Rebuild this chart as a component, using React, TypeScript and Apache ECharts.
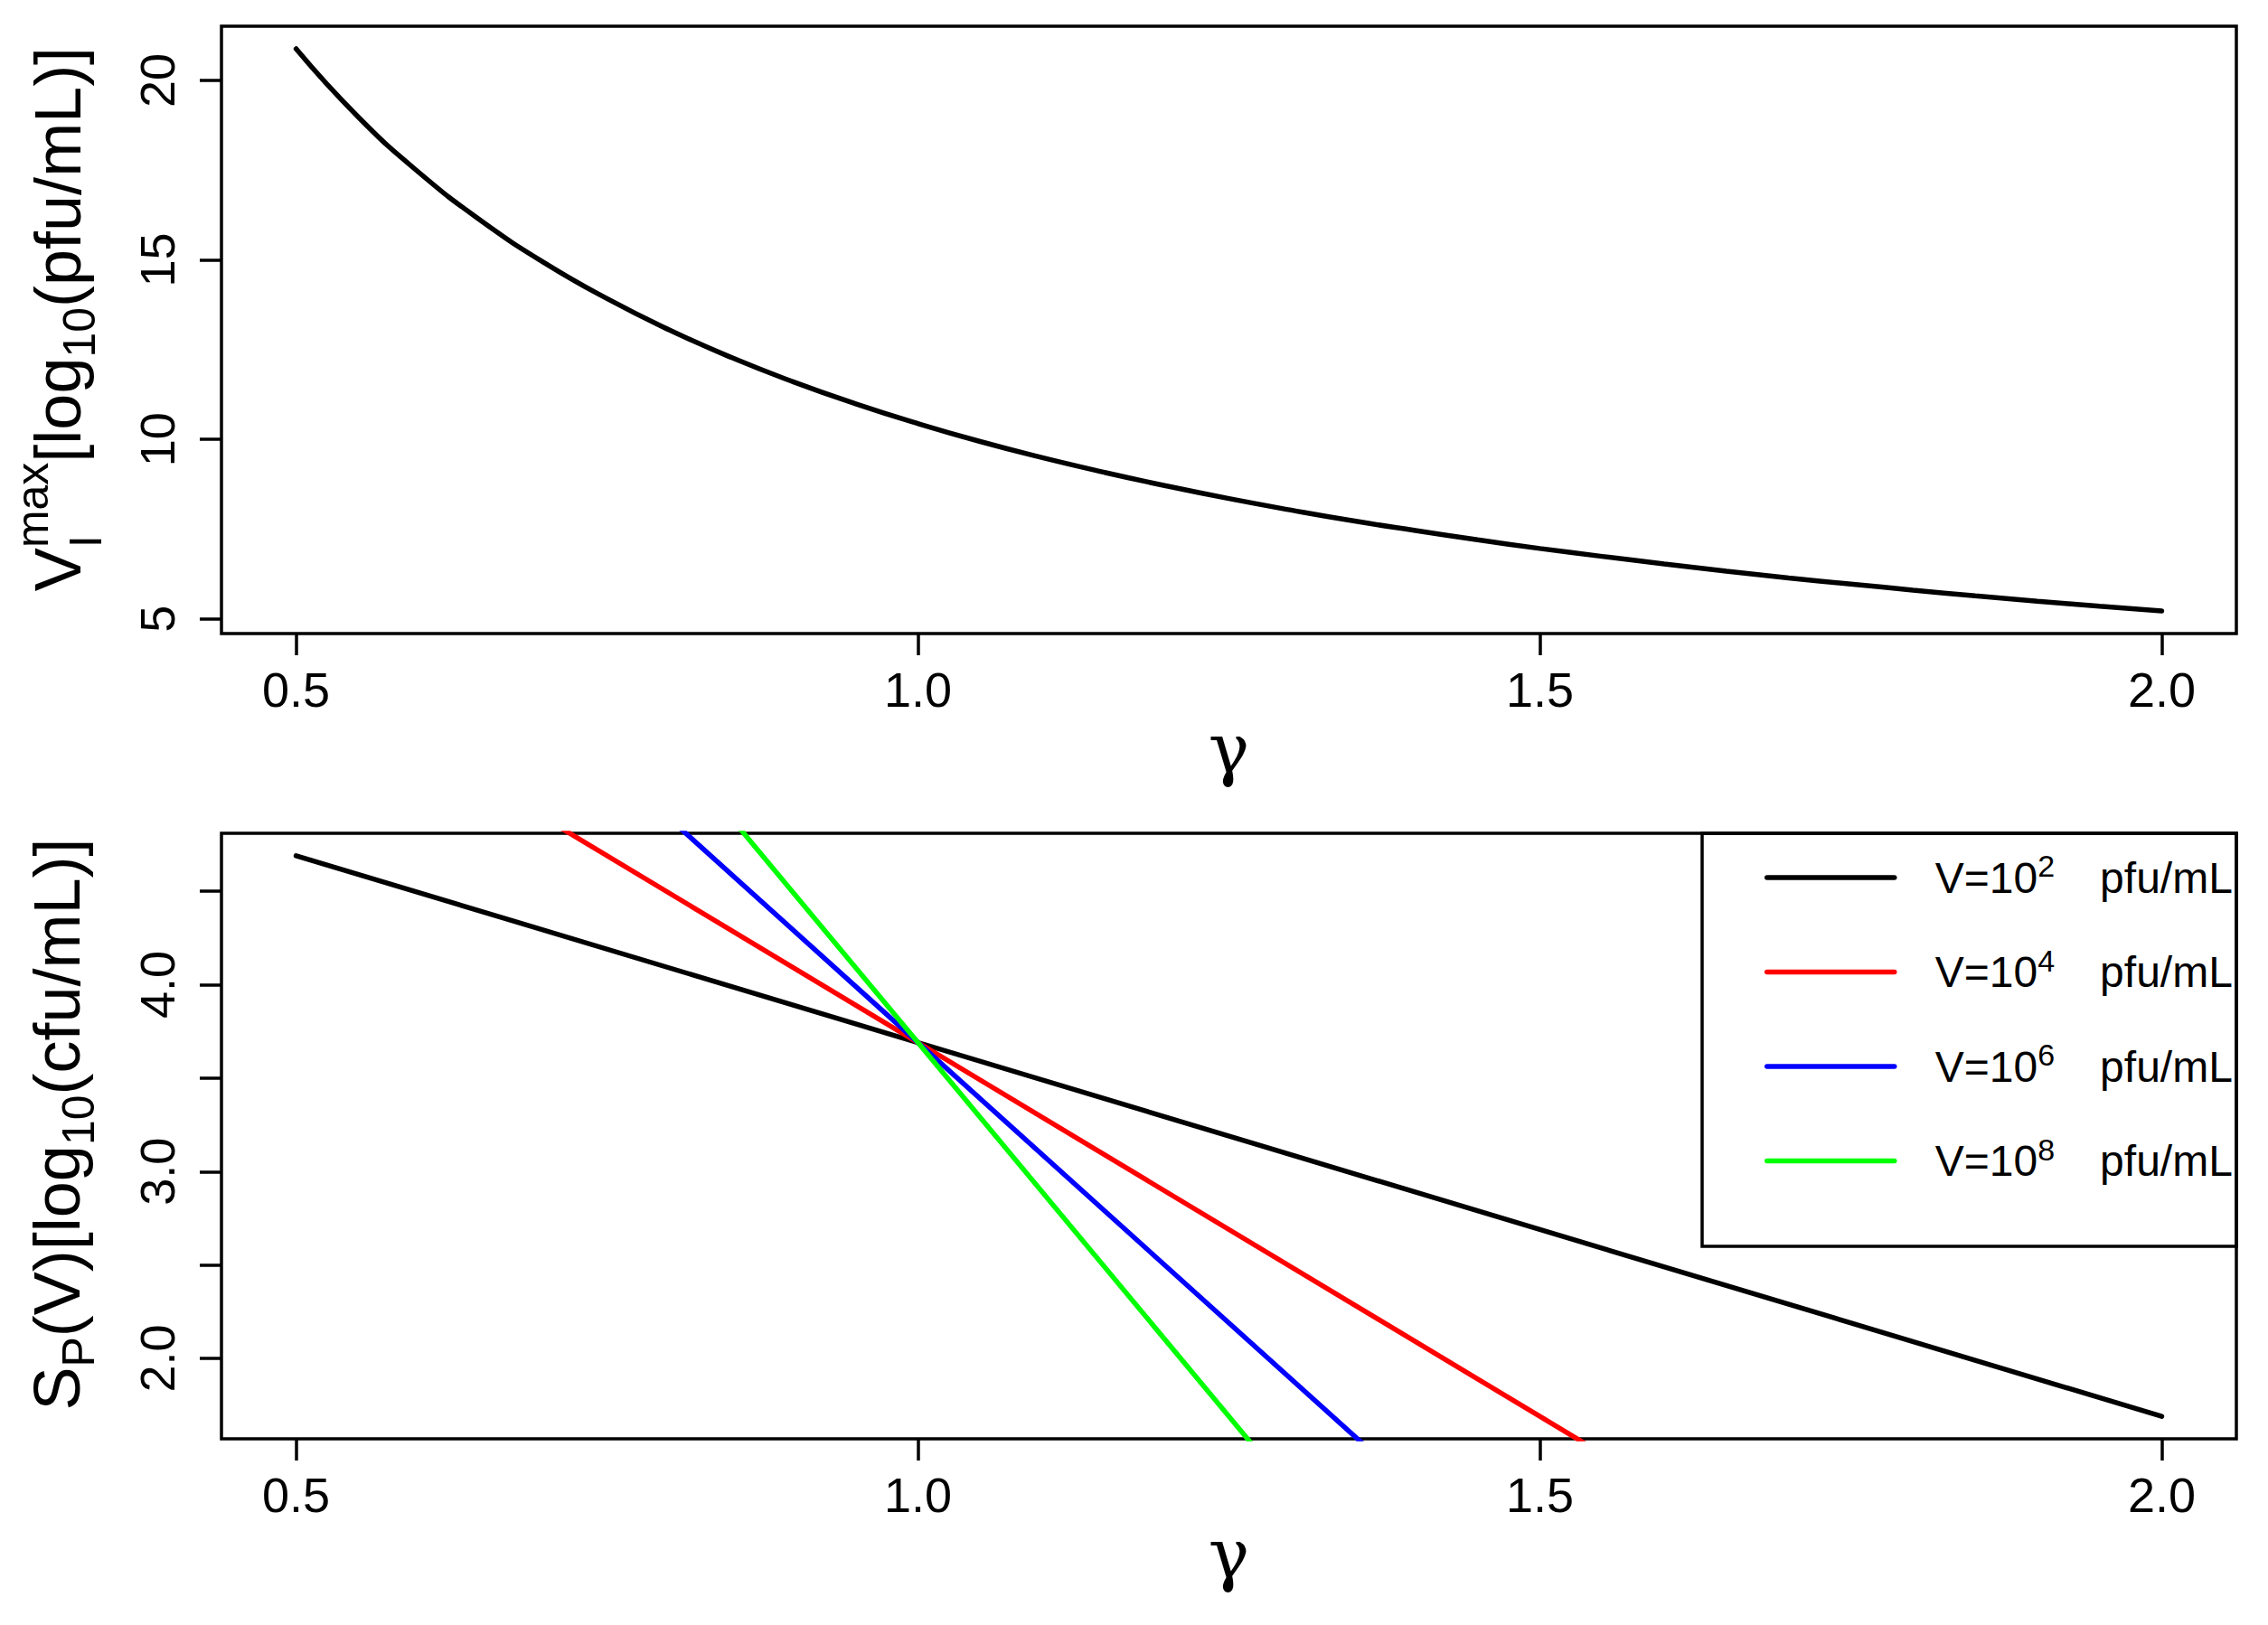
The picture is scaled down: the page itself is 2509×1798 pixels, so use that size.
import React, { useEffect, useRef } from 'react';
import * as echarts from 'echarts';

// ---------- data ----------
const gammaTop = [0.5, 0.55, 0.6, 0.65, 0.7, 0.75, 0.8, 0.85, 0.9, 0.95, 1.0, 1.05, 1.1, 1.15, 1.2, 1.25, 1.3, 1.35, 1.4, 1.45, 1.5, 1.55, 1.6, 1.65, 1.7, 1.75, 1.8, 1.85, 1.9, 1.95, 2.0];
const vMaxTop = [20.88, 18.98, 17.4, 16.06, 14.91, 13.92, 13.05, 12.28, 11.6, 10.99, 10.44, 9.94, 9.49, 9.08, 8.7, 8.35, 8.03, 7.73, 7.46, 7.2, 6.96, 6.74, 6.53, 6.33, 6.14, 5.97, 5.8, 5.64, 5.49, 5.35, 5.22];

const gammaBottom = [0.5, 1.0, 1.5, 2.0];
const spV2 = [4.69, 3.69, 2.69, 1.69];
const spV4 = [5.69, 3.69, 1.69, -0.31];
const spV6 = [6.69, 3.69, 0.69, -2.31];
const spV8 = [7.69, 3.69, -0.31, -4.31];
const seriesNames = ['V=10^2 pfu/mL', 'V=10^4 pfu/mL', 'V=10^6 pfu/mL', 'V=10^8 pfu/mL'];
const seriesColors = ['#000000', '#ff0000', '#0000ff', '#00ff00'];

const xTicks = [0.5, 1.0, 1.5, 2.0];
const yTicksTop = [5, 10, 15, 20];
const yTicksBottom = [2.0, 2.5, 3.0, 3.5, 4.0, 4.5];
const yLabelsBottom = [2.0, 3.0, 4.0];

// ---------- styling ----------
const SANS = "'Liberation Sans', Arial, Helvetica, sans-serif";
const SERIF = "'DejaVu Serif', 'Liberation Serif', serif";
const TICK_FONT = 54;
const TITLE_FONT = 72;
const SCRIPT_FONT = 50;
const CENTRAL = 0.3465; // central baseline offset (em) above alphabetic baseline
const LINE_W = 5.5;
const FRAME_W = 3.5;

let measureCtx: CanvasRenderingContext2D | null = null;
function measure(text: string, size: number): number {
  if (!measureCtx) {
    measureCtx = document.createElement('canvas').getContext('2d');
  }
  measureCtx!.font = `${size}px ${SANS}`;
  return measureCtx!.measureText(text).width;
}

type Piece = { t: string; size: number; dy: number };
function buildTitle(steps: Piece[][], bx: number, cy: number) {
  const advances = steps.map((st) => Math.max(...st.map((p) => measure(p.t, p.size))));
  const total = advances.reduce((a, b) => a + b, 0);
  let lx = -total / 2;
  const children: any[] = [];
  steps.forEach((st, i) => {
    st.forEach((p) => {
      children.push({
        type: 'text',
        x: lx,
        y: p.dy - CENTRAL * p.size,
        style: {
          text: p.t,
          fontSize: p.size,
          fontFamily: SANS,
          fontStyle: 'normal',
          fill: '#000',
          align: 'left',
          verticalAlign: 'middle',
        },
      });
    });
    lx += advances[i];
  });
  return { type: 'group', x: bx, y: cy, rotation: Math.PI / 2, children };
}

function pairs(xs: number[], ys: number[]) {
  return xs.map((x, i) => [x, ys[i]]);
}

const axisCommonX = (gridIndex: number) => ({
  type: 'value',
  gridIndex,
  min: 0.44,
  max: 2.06,
  name: 'γ',
  nameLocation: 'middle',
  nameGap: 78,
  nameTextStyle: { fontFamily: SERIF, fontSize: 76, color: '#000' },
  axisLine: { show: false },
  splitLine: { show: false },
  axisTick: { show: true, length: 24, lineStyle: { color: '#000', width: FRAME_W }, customValues: xTicks },
  axisLabel: {
    show: true,
    customValues: xTicks,
    margin: 35,
    fontSize: TICK_FONT,
    fontFamily: SANS,
    color: '#000',
    formatter: (v: number) => v.toFixed(1),
  },
});

export default function App() {
  const ref = useRef<HTMLDivElement>(null);
  useEffect(() => {
    if (!ref.current) return;
    const chart = echarts.init(ref.current, null, { renderer: 'svg' });
    const legendRich = {
      a: { fontSize: 48, fontFamily: SANS, color: '#000', lineHeight: 60, padding: [0, 0, 0, 40] },
      s: { fontSize: 34, fontFamily: SANS, color: '#000', lineHeight: 38, verticalAlign: 'top' },
      u: { fontSize: 48, fontFamily: SANS, color: '#000', lineHeight: 60, padding: [0, 0, 0, 50] },
    };
    const option: any = {
      animation: false,
      backgroundColor: '#ffffff',
      grid: [
        { left: 245, top: 29, width: 2229, height: 672, show: true, borderColor: '#000', borderWidth: FRAME_W, containLabel: false },
        { left: 245, top: 922, width: 2229, height: 670, show: true, borderColor: '#000', borderWidth: FRAME_W, containLabel: false },
      ],
      xAxis: [axisCommonX(0), axisCommonX(1)],
      yAxis: [
        {
          type: 'value',
          gridIndex: 0,
          min: 4.59,
          max: 21.51,
          axisLine: { show: false },
          splitLine: { show: false },
          axisTick: { show: true, length: 24, lineStyle: { color: '#000', width: FRAME_W }, customValues: yTicksTop },
          axisLabel: {
            show: true,
            customValues: yTicksTop,
            rotate: 90,
            margin: 44,
            fontSize: TICK_FONT,
            fontFamily: SANS,
            color: '#000',
            formatter: (v: number) => String(v),
          },
        },
        {
          type: 'value',
          gridIndex: 1,
          min: 1.57,
          max: 4.81,
          axisLine: { show: false },
          splitLine: { show: false },
          axisTick: { show: true, length: 24, lineStyle: { color: '#000', width: FRAME_W }, customValues: yTicksBottom },
          axisLabel: {
            show: true,
            customValues: yLabelsBottom,
            rotate: 90,
            margin: 44,
            fontSize: TICK_FONT,
            fontFamily: SANS,
            color: '#000',
            formatter: (v: number) => v.toFixed(1),
          },
        },
      ],
      legend: {
        orient: 'vertical',
        left: 1952,
        top: 941,
        padding: 0,
        itemWidth: 141,
        itemHeight: 60,
        itemGap: 50.5,
        selectedMode: false,
        data: seriesNames,
        itemStyle: { opacity: 0 },
        lineStyle: { width: LINE_W, cap: 'round' },
        textStyle: { color: '#000', fontFamily: SANS, fontSize: 48, rich: legendRich },
        formatter: (name: string) => {
          const m = name.match(/^V=10\^(\d+) (.*)$/);
          if (!m) return name;
          return `{a|V=10}{s|${m[1]}}{u|${m[2]}}`;
        },
      },
      series: [
        {
          type: 'line',
          name: 'Vmax',
          xAxisIndex: 0,
          yAxisIndex: 0,
          data: pairs(gammaTop, vMaxTop),
          symbol: 'none',
          smooth: true,
          lineStyle: { color: '#000', width: LINE_W, cap: 'round' },
          silent: true,
        },
        ...[spV2, spV4, spV6, spV8].map((vals, i) => ({
          type: 'line',
          name: seriesNames[i],
          xAxisIndex: 1,
          yAxisIndex: 1,
          data: pairs(gammaBottom, vals),
          symbol: 'none',
          clip: true,
          color: seriesColors[i],
          lineStyle: { color: seriesColors[i], width: LINE_W, cap: 'round' },
          silent: true,
        })),
      ],
      graphic: [
        {
          type: 'rect',
          shape: { x: 1883, y: 922, width: 591, height: 457 },
          style: { fill: 'none', stroke: '#000', lineWidth: FRAME_W },
          silent: true,
        },
        buildTitle(
          [
            [{ t: 'V', size: TITLE_FONT, dy: 0 }],
            [
              { t: 'max', size: SCRIPT_FONT, dy: -36 },
              { t: 'I', size: SCRIPT_FONT, dy: 23 },
            ],
            [{ t: '[log', size: TITLE_FONT, dy: 0 }],
            [{ t: '10', size: SCRIPT_FONT, dy: 16 }],
            [{ t: '(pfu/mL)]', size: TITLE_FONT, dy: 0 }],
          ],
          89,
          353
        ),
        buildTitle(
          [
            [{ t: 'S', size: TITLE_FONT, dy: 0 }],
            [{ t: 'P', size: SCRIPT_FONT, dy: 16 }],
            [{ t: '(V)[log', size: TITLE_FONT, dy: 0 }],
            [{ t: '10', size: SCRIPT_FONT, dy: 16 }],
            [{ t: '(cfu/mL)]', size: TITLE_FONT, dy: 0 }],
          ],
          88,
          1244
        ),
      ],
    };
    chart.setOption(option);
    return () => chart.dispose();
  }, []);
  return (
    <div
      ref={ref}
      style={{ position: 'fixed', left: 0, top: 0, width: 2509, height: 1798, background: '#fff' }}
    />
  );
}
